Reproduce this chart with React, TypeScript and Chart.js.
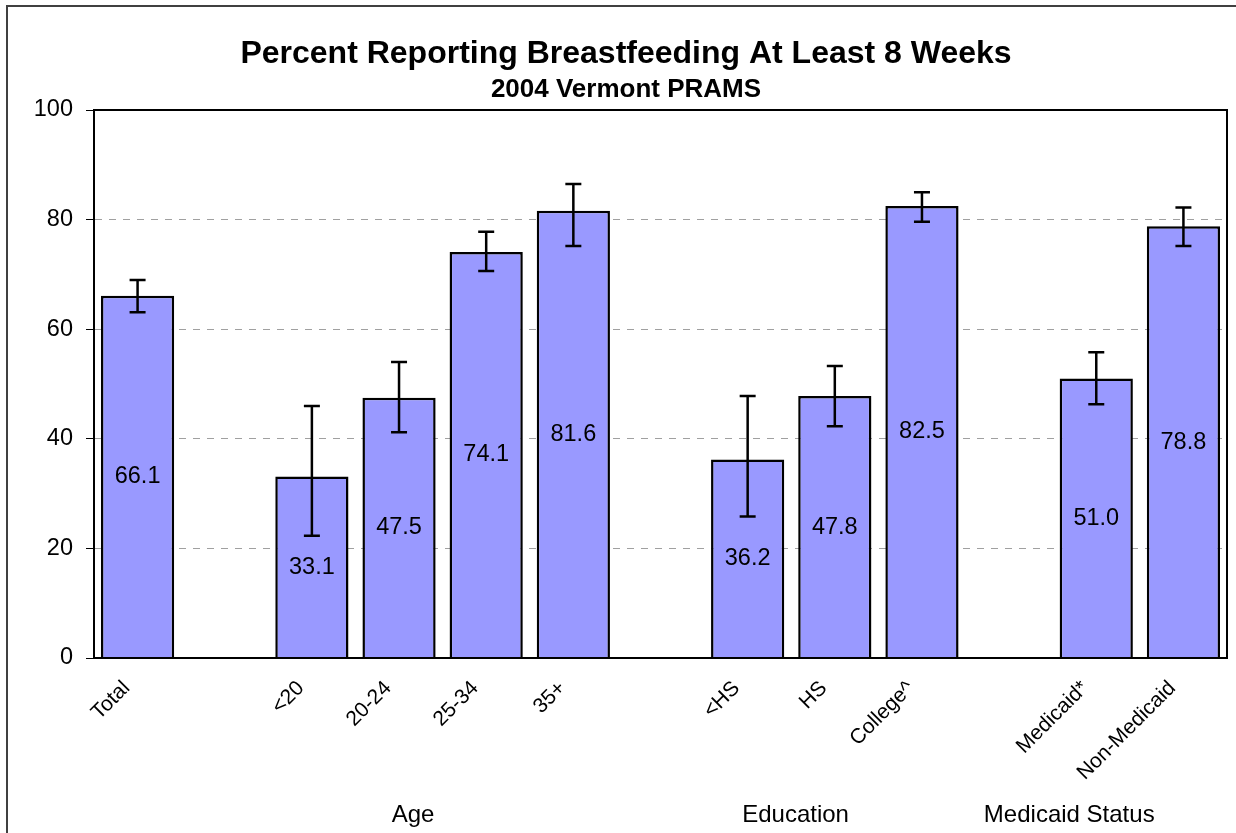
import React, { useEffect, useRef } from "react";
import { Chart, registerables } from "chart.js";

Chart.register(...registerables);

const categories = ["Total", "", "<20", "20-24", "25-34", "35+", "", "<HS", "HS", "College^", "", "Medicaid*", "Non-Medicaid"];
const percents = [66.1, null, 33.1, 47.5, 74.1, 81.6, null, 36.2, 47.8, 82.5, null, 51.0, 78.8];
const ciLower = [63.1, null, 22.3, 41.2, 70.6, 75.2, null, 25.8, 42.3, 79.6, null, 46.3, 75.2];
const ciUpper = [69.0, null, 46.0, 54.0, 77.8, 86.5, null, 47.8, 53.3, 85.0, null, 55.8, 82.2];
const groupLabels = ["Age", "Education", "Medicaid Status"];
const groupLabelIndex = [3.16, 7.55, 10.69];
const titleText = "Percent Reporting Breastfeeding At Least 8 Weeks";
const subtitleText = "2004 Vermont PRAMS";

const FONT = "'Liberation Sans', Arial, sans-serif";

const overlayPlugin = {
  id: "overlay",
  afterDatasetsDraw(chart: any) {
    const { ctx, chartArea, scales } = chart;
    const x = scales.x;
    const y = scales.y;
    ctx.save();
    // error bars
    ctx.strokeStyle = "#000";
    ctx.lineWidth = 2.5;
    percents.forEach((v, i) => {
      const lo = ciLower[i];
      const hi = ciUpper[i];
      if (v == null || lo == null || hi == null) return;
      const px = x.getPixelForValue(i);
      const yl = y.getPixelForValue(lo);
      const yh = y.getPixelForValue(hi);
      ctx.beginPath();
      ctx.moveTo(px, yl);
      ctx.lineTo(px, yh);
      ctx.moveTo(px - 8, yl);
      ctx.lineTo(px + 8, yl);
      ctx.moveTo(px - 8, yh);
      ctx.lineTo(px + 8, yh);
      ctx.stroke();
    });
    // value labels
    ctx.fillStyle = "#000";
    ctx.font = `23.5px ${FONT}`;
    ctx.textAlign = "center";
    ctx.textBaseline = "middle";
    percents.forEach((v, i) => {
      if (v == null) return;
      ctx.fillText(v.toFixed(1), x.getPixelForValue(i), y.getPixelForValue(v / 2));
    });
    // plot frame
    ctx.lineWidth = 2;
    ctx.strokeStyle = "#000";
    ctx.strokeRect(chartArea.left, chartArea.top, chartArea.right - chartArea.left, chartArea.bottom - chartArea.top);
    // title
    const cx = 626;
    ctx.font = `bold 32px ${FONT}`;
    ctx.textBaseline = "alphabetic";
    ctx.fillText(titleText, cx, 63);
    ctx.font = `bold 26px ${FONT}`;
    ctx.fillText(subtitleText, cx, 97);
    // group labels
    ctx.font = `24px ${FONT}`;
    groupLabels.forEach((g, k) => {
      const pos = x.getPixelForDecimal((groupLabelIndex[k] + 0.5) / categories.length);
      ctx.fillText(g, pos, 822);
    });
    // outer frame
    ctx.strokeStyle = "#404040";
    ctx.lineWidth = 2;
    ctx.strokeRect(7, 6, 1260, 860);
    ctx.restore();
  },
};

export default function App() {
  const ref = useRef<HTMLCanvasElement | null>(null);
  useEffect(() => {
    document.body.style.margin = "0";
    const chart = new Chart(ref.current as HTMLCanvasElement, {
      type: "bar",
      data: {
        labels: categories,
        datasets: [
          {
            data: percents as any,
            backgroundColor: "#9999FF",
            borderColor: "#000",
            borderWidth: 2.5,
            barPercentage: 0.84,
            categoryPercentage: 1,
          },
        ],
      },
      options: {
        animation: false,
        responsive: true,
        maintainAspectRatio: false,
        layout: { padding: { top: 110, right: 9, left: 0, bottom: 0 } },
        plugins: { legend: { display: false }, tooltip: { enabled: false }, title: { display: false } },
        scales: {
          x: {
            grid: { display: false },
            border: { display: true, color: "#000", width: 2 },
            ticks: {
              autoSkip: false,
              minRotation: 45,
              maxRotation: 45,
              color: "#000",
              padding: 10,
              labelOffset: -11,
              font: { family: FONT, size: 21 },
            },
            afterFit(scale: any) {
              scale.height = 175;
            },
          },
          y: {
            min: 0,
            max: 100,
            ticks: {
              stepSize: 20,
              color: "#000",
              padding: 13,
              font: { family: FONT, size: 23.5 },
            },
            grid: {
              color: "#a0a0a0",
              lineWidth: 1,
              tickColor: "#000",
              tickLength: 8,
              tickBorderDash: [],
              tickWidth: 1,
            },
            border: { display: true, color: "#000", width: 2, dash: [7, 7] },
            afterFit(scale: any) {
              scale.width = 94;
            },
          },
        },
      },
      plugins: [overlayPlugin],
    });
    return () => chart.destroy();
  }, []);
  return (
    <div style={{ position: "absolute", left: 0, top: 0, width: 1236, height: 833 }}>
      <canvas ref={ref} />
    </div>
  );
}
